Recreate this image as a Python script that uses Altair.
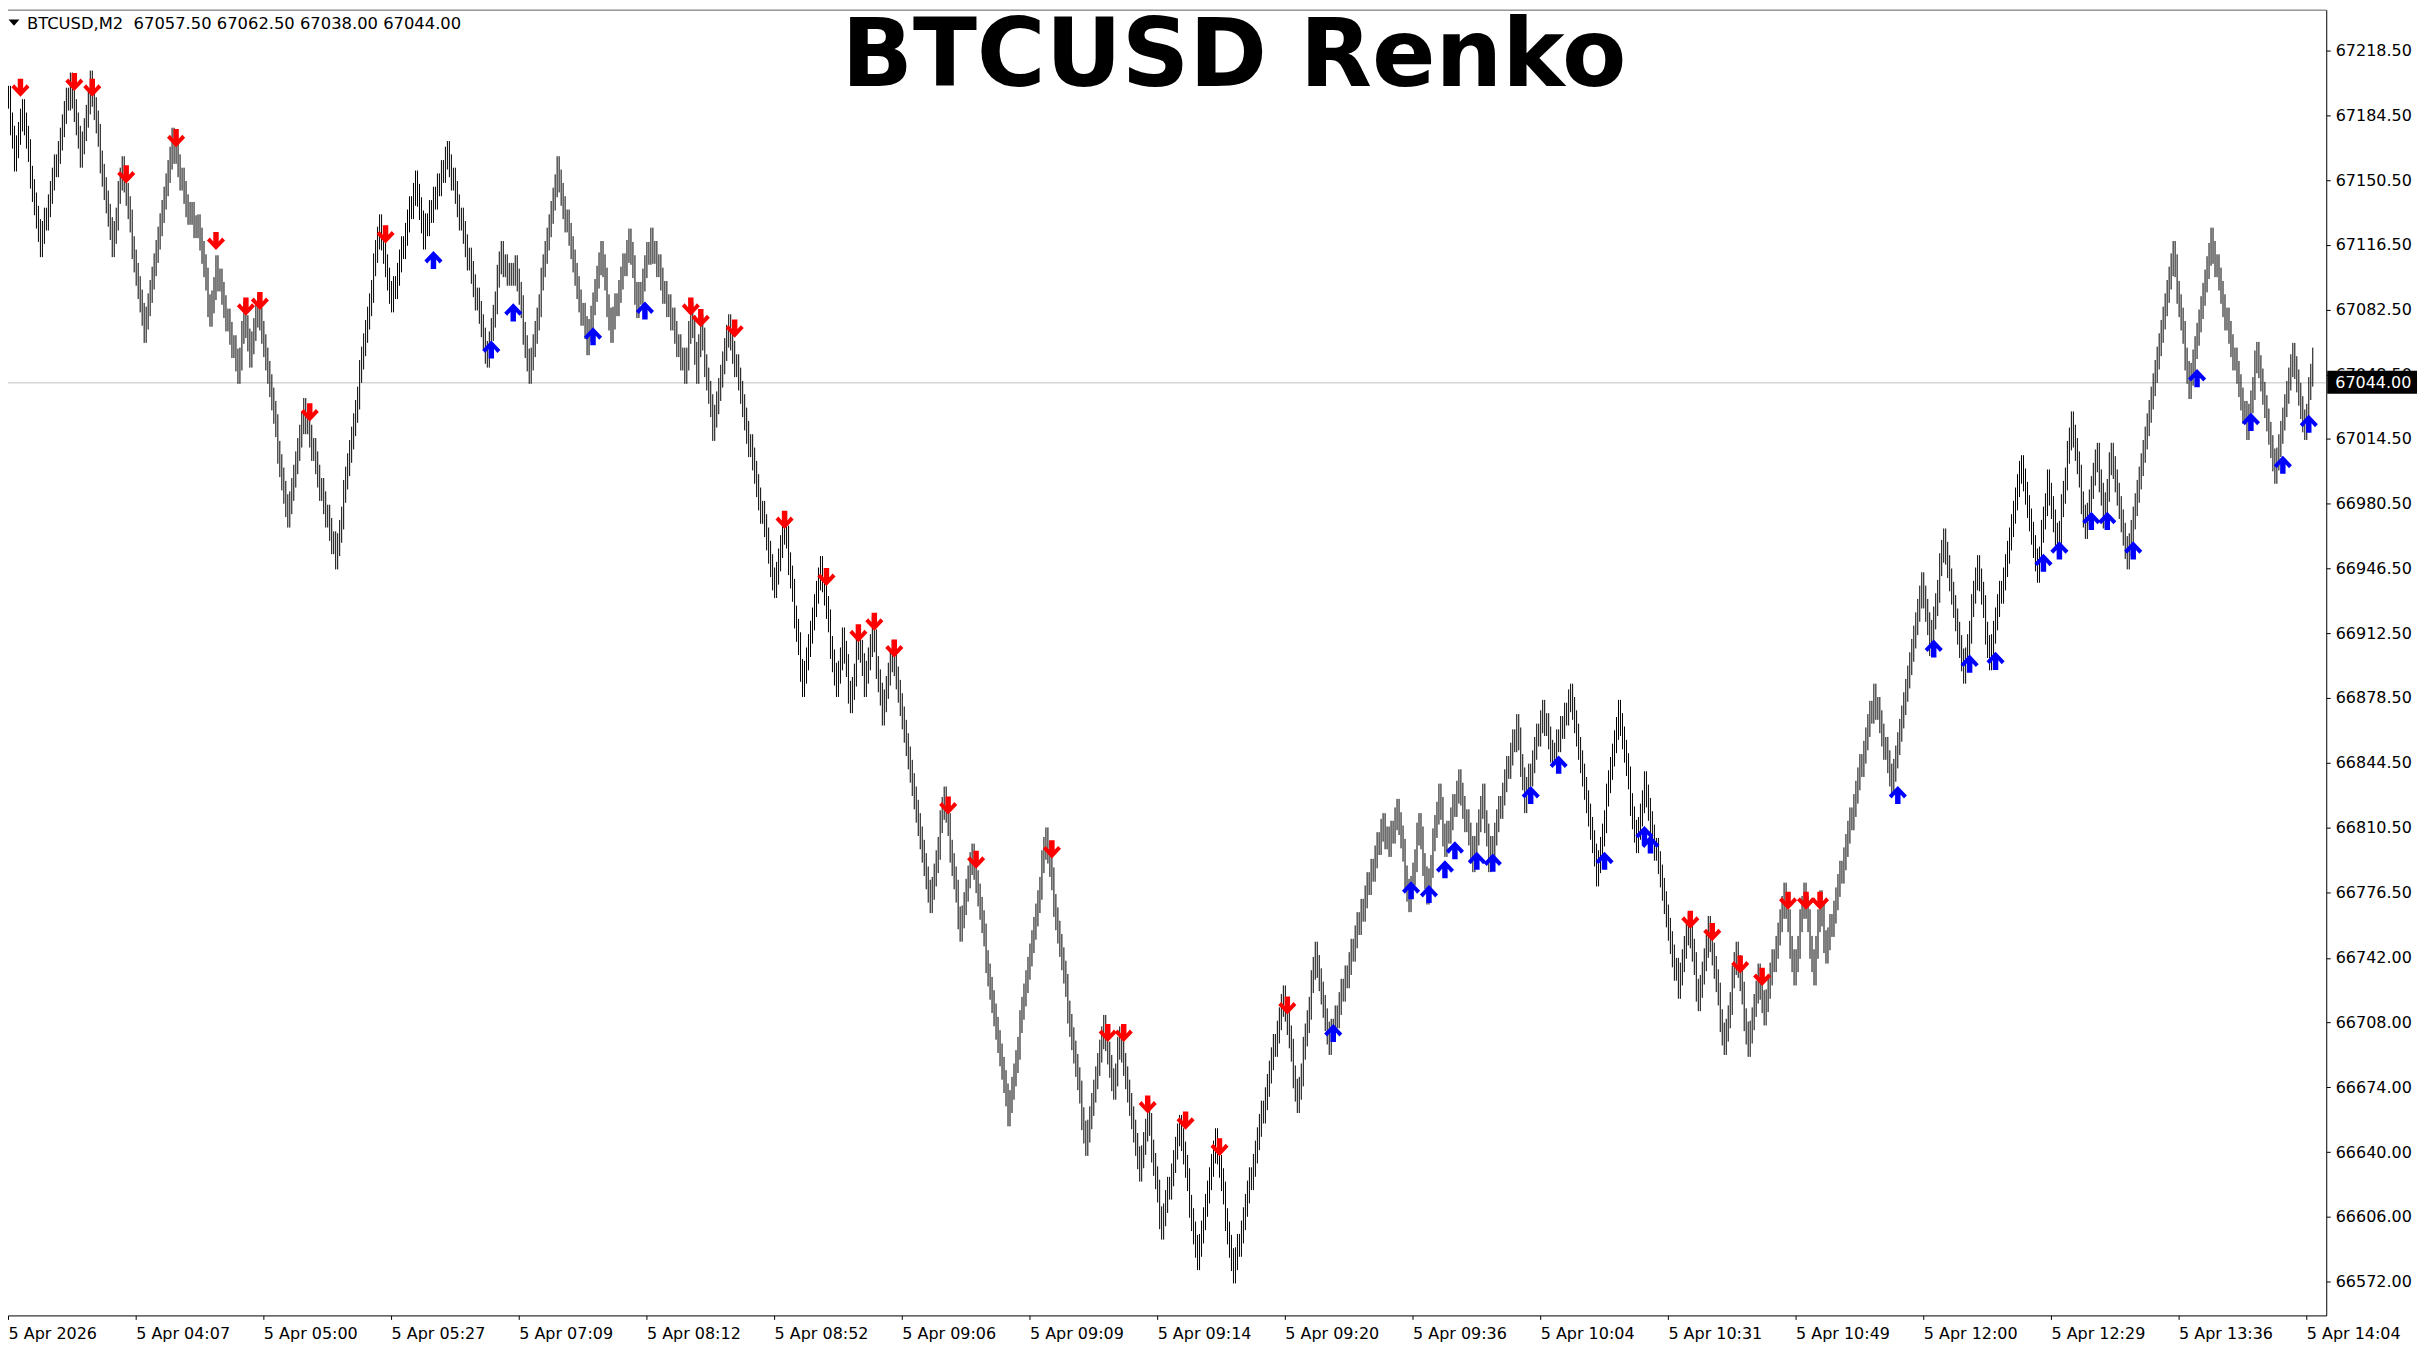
import altair as alt
import pandas as pd
import numpy as np

# ---- data ----
# zig-zag pivots: bar index and tip price (high at peaks, low at troughs)
piv_bar = [0, 3, 7, 16, 31, 36, 41, 52, 57, 68, 82, 90, 95, 101, 104, 115, 118, 121, 125, 140,
           148, 164, 186, 192, 204, 208, 220, 240, 247, 250, 254, 261, 275, 290, 297, 302, 311, 315, 322, 339,
           342, 345, 347, 353, 361, 384, 389, 398, 407, 415, 418, 422, 426, 429, 433, 438, 443, 462, 469, 477,
           483, 501, 520, 540, 549, 554, 557, 567, 571, 578, 587, 596, 605, 614, 639, 646, 655, 662, 689, 692,
           696, 702, 707, 711, 717, 720, 727, 734, 739, 742, 756, 760, 769, 774, 783, 796, 807, 816, 820, 837,
           842, 847, 852, 860, 866, 872, 877, 880, 890, 895, 900, 905, 908, 911, 935, 944, 959, 963, 970, 980,
           987, 993, 1009, 1017, 1022, 1027, 1034, 1041, 1047, 1050, 1054, 1062, 1085, 1093, 1104, 1122, 1127, 1136, 1145, 1151,
           1155]
piv_tip = [67200.0, 67155.0, 67193.0, 67110.0, 67207.0, 67157.0, 67208.0, 67110.0, 67163.0, 67065.0,
           67178.0, 67127.0, 67132.5, 67073.5, 67111.0, 67043.5, 67086.5, 67052.0, 67090.5, 66968.0,
           67036.0, 66946.0, 67132.5, 67081.0, 67155.5, 67114.0, 67171.0, 67052.0, 67118.5, 67095.0,
           67111.0, 67043.5, 67163.0, 67058.5, 67118.5, 67065.0, 67125.0, 67078.0, 67125.5, 67043.5,
           67086.5, 67043.5, 67080.0, 67013.5, 67080.0, 66931.0, 66976.0, 66879.0, 66953.0, 66879.0,
           66915.5, 66870.5, 66916.0, 66879.0, 66921.5, 66864.0, 66909.0, 66765.5, 66832.0, 66750.5,
           66802.0, 66653.5, 66810.5, 66638.0, 66712.0, 66667.5, 66706.0, 66624.5, 66667.5, 66594.0,
           66659.5, 66578.0, 66652.5, 66571.0, 66727.5, 66660.5, 66750.5, 66691.0, 66818.0, 66795.0,
           66825.5, 66766.0, 66818.0, 66770.0, 66833.5, 66795.0, 66841.0, 66787.0, 66833.5, 66787.0,
           66870.0, 66818.0, 66877.5, 66843.0, 66886.0, 66779.5, 66877.5, 66797.0, 66840.0, 66720.5,
           66766.0, 66714.0, 66764.0, 66691.0, 66750.5, 66690.0, 66739.0, 66706.5, 66781.5, 66727.5,
           66781.5, 66727.5, 66777.5, 66739.0, 66886.0, 66827.5, 66944.5, 66900.5, 66967.5, 66886.0,
           66953.5, 66893.0, 67006.0, 66939.0, 66998.5, 66952.5, 67029.0, 66962.0, 67012.5, 66967.5,
           67012.5, 66946.0, 67118.5, 67035.5, 67125.5, 67014.0, 67065.5, 66991.0, 67065.0, 67014.0,
           67062.5]

# red (down) and blue (up) arrow signals: bar index and price
dn_bar = [6, 33, 42, 59, 84, 104, 119, 126, 151, 189, 342, 347, 364, 389, 410, 426, 434, 444, 471, 485,
          523, 551, 559, 571, 590, 607, 641, 843, 854, 868, 879, 892, 901, 908]
dn_price = [67199.0, 67202.0, 67199.0, 67153.5, 67172.5, 67118.5, 67084.0, 67087.0, 67028.5, 67122.0,
            67084.0, 67078.0, 67072.5, 66972.0, 66942.0, 66912.5, 66918.5, 66904.5, 66822.0, 66793.5,
            66799.0, 66702.5, 66702.5, 66665.0, 66656.5, 66642.5, 66717.0, 66762.0, 66755.5, 66738.5,
            66732.0, 66772.0, 66772.0, 66772.0]
up_bar = [213, 242, 253, 293, 319, 664, 703, 712, 720, 725, 736, 744, 763, 777, 800, 820, 823, 947, 965, 983,
          996, 1020, 1028, 1044, 1052, 1065, 1097, 1124, 1140, 1153]
up_price = [67108.5, 67061.5, 67081.0, 67068.5, 67082.0, 66702.5, 66777.5, 66775.5, 66788.5, 66798.5,
            66793.0, 66792.0, 66827.5, 66843.5, 66793.0, 66806.5, 66801.5, 66827.5, 66904.5, 66896.5,
            66898.0, 66949.5, 66956.0, 66971.5, 66971.5, 66956.0, 67046.5, 67023.5, 67001.0, 67022.5]

y_ticks = [67218.5, 67184.5, 67150.5, 67116.5, 67082.5, 67048.5, 67014.5, 66980.5, 66946.5, 66912.5,
           66878.5, 66844.5, 66810.5, 66776.5, 66742.0, 66708.0, 66674.0, 66640.0, 66606.0, 66572.0]
x_labels = ["5 Apr 2026", "5 Apr 04:07", "5 Apr 05:00", "5 Apr 05:27", "5 Apr 07:09", "5 Apr 08:12",
            "5 Apr 08:52", "5 Apr 09:06", "5 Apr 09:09", "5 Apr 09:14", "5 Apr 09:20", "5 Apr 09:36",
            "5 Apr 10:04", "5 Apr 10:31", "5 Apr 10:49", "5 Apr 12:00", "5 Apr 12:29", "5 Apr 13:36",
            "5 Apr 14:04"]
bars_per_label = 64
last_price = 67044.0
header = "BTCUSD,M2 \u00a067057.50 67062.50 67038.00 67044.00"
title = "BTCUSD Renko"

# ---- build renko bars from pivots ----
W = 6.0   # wick beyond the brick body
B = 7.0   # brick size
n = len(piv_bar)
piv_c = []
for k in range(n):
    nb = []
    if k > 0:
        nb.append(piv_tip[k - 1])
    if k < n - 1:
        nb.append(piv_tip[k + 1])
    peak = piv_tip[k] > max(nb)
    piv_c.append(piv_tip[k] - W if peak else piv_tip[k] + W)

centers = {}
for k in range(n - 1):
    i0, i1 = piv_bar[k], piv_bar[k + 1]
    c0, c1 = piv_c[k], piv_c[k + 1]
    m = i1 - i0
    for j in range(m):
        centers[i0 + j] = c0 + B * round((c1 - c0) * j / m / B)
centers[piv_bar[-1]] = piv_c[-1]

rows = []
prev = None
for i in sorted(centers):
    c = centers[i]
    o = c if prev is None else prev
    rows.append({"u": i + 0.25, "low": min(o, c) - W, "high": max(o, c) + W})
    prev = c
bars_df = pd.DataFrame(rows)

dn_df = pd.DataFrame({"u": [b + 0.25 for b in dn_bar], "p": dn_price})
up_df = pd.DataFrame({"u": [b + 0.25 for b in up_bar], "p": up_price})

W_PLOT = 2324
H_PLOT = 1309
xs = alt.Scale(domain=[0, 1162], nice=False, zero=False)
ys = alt.Scale(domain=[66554.2, 67240.0], nice=False, zero=False)

label_expr = "[" + ",".join("'%s'" % s for s in x_labels) + "][round(datum.value/%d)]" % bars_per_label
FONT = "DejaVu Sans"

x_axis = alt.Axis(values=[bars_per_label * k for k in range(len(x_labels))], labelExpr=label_expr,
                  orient="bottom", labelAlign="left", labelBaseline="top", labelFont=FONT,
                  labelFontSize=16, labelColor="black", tickColor="black", tickSize=4,
                  domainColor="black", grid=False, labelPadding=6, title=None,
                  labelOverlap=False, labelFlush=False, labelBound=False)
y_axis = alt.Axis(values=y_ticks, format=".2f", orient="right", labelAlign="left",
                  labelBaseline="middle", labelFont=FONT, labelFontSize=16, labelColor="black",
                  tickColor="black", tickSize=4, domainColor="black", grid=False,
                  labelPadding=5, title=None, labelOverlap=False, labelFlush=False, labelBound=False)

price_line = alt.Chart(pd.DataFrame({"p": [last_price]})).mark_rule(color="#C0C0C0", strokeWidth=1).encode(
    y=alt.Y("p:Q", scale=ys, axis=y_axis), x=alt.value(0), x2=alt.value(W_PLOT))

bars = alt.Chart(bars_df).mark_rule(color="black", strokeWidth=1).encode(
    x=alt.X("u:Q", scale=xs, axis=x_axis),
    y=alt.Y("low:Q", scale=ys, axis=y_axis),
    y2="high:Q")

down_path = "M 0,1 L 1,-0.05 L 0.68,-0.38 L 0.3,0.05 L 0.3,-1 L -0.3,-1 L -0.3,0.05 L -0.68,-0.38 L -1,-0.05 Z"
up_path = "M 0,-1 L 1,0.05 L 0.68,0.38 L 0.3,-0.05 L 0.3,1 L -0.3,1 L -0.3,-0.05 L -0.68,0.38 L -1,0.05 Z"

dn = alt.Chart(dn_df).mark_point(shape=down_path, filled=True, size=330, color="#FF0000",
                                 opacity=1, strokeWidth=0).encode(
    x=alt.X("u:Q", scale=xs), y=alt.Y("p:Q", scale=ys))
up = alt.Chart(up_df).mark_point(shape=up_path, filled=True, size=330, color="#0000FF",
                                 opacity=1, strokeWidth=0).encode(
    x=alt.X("u:Q", scale=xs), y=alt.Y("p:Q", scale=ys))

top_line = alt.Chart(pd.DataFrame({"a": [0]})).mark_rule(color="#606060", strokeWidth=1).encode(
    x=alt.value(0), x2=alt.value(W_PLOT), y=alt.value(0.5))

title_txt = alt.Chart(pd.DataFrame({"t": [title]})).mark_text(
    font=FONT, fontWeight="bold", fontSize=94, align="center", baseline="alphabetic", color="black").encode(
    text="t:N", x=alt.value(1229), y=alt.value(77))

header_txt = alt.Chart(pd.DataFrame({"t": [header]})).mark_text(
    font=FONT, fontSize=16.4, align="left", baseline="alphabetic", color="black").encode(
    text="t:N", x=alt.value(19), y=alt.value(19))

tri = alt.Chart(pd.DataFrame({"a": [0]})).mark_point(
    shape="M -1,-0.55 L 1,-0.55 L 0,0.55 Z", filled=True, size=121, color="black",
    opacity=1, strokeWidth=0).encode(x=alt.value(6), y=alt.value(13))

box_df = pd.DataFrame({"y1": [67050.3], "y2": [67038.3], "p": [last_price], "t": ["67044.00"]})
box = alt.Chart(box_df).mark_rect(color="black").encode(
    x=alt.value(W_PLOT + 1), x2=alt.value(W_PLOT + 91),
    y=alt.Y("y1:Q", scale=ys), y2="y2:Q")
box_txt = alt.Chart(box_df).mark_text(font=FONT, fontSize=16, align="left", baseline="middle",
                                      color="white").encode(
    text="t:N", x=alt.value(W_PLOT + 9), y=alt.Y("p:Q", scale=ys))

chart = alt.layer(price_line, bars, dn, up, top_line, title_txt, header_txt, tri, box, box_txt).properties(
    width=W_PLOT, height=H_PLOT,
    autosize=alt.AutoSizeParams(type="none"),
    padding={"left": 0, "top": 0, "right": 100, "bottom": 30},
    background="white",
).configure_view(strokeWidth=0)

chart.save("out.html", embed_options={"renderer": "svg", "actions": False})
